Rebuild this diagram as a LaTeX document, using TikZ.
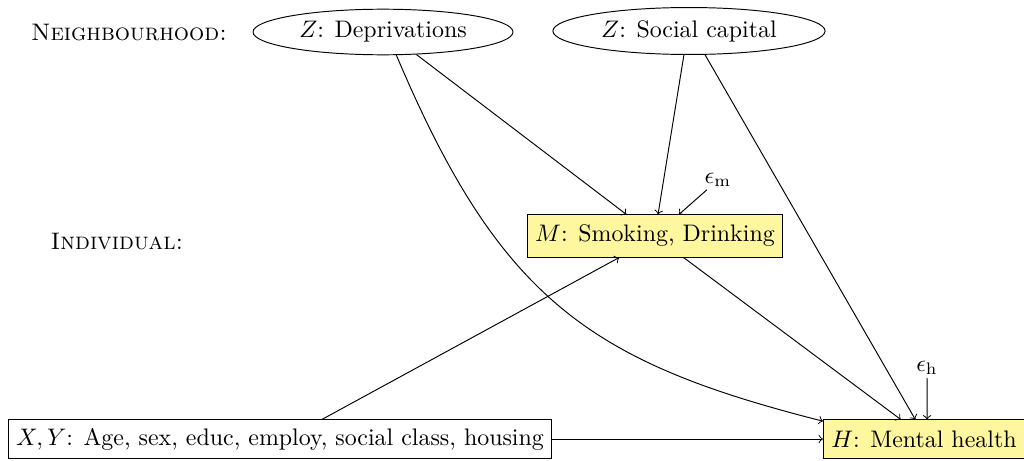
\documentclass[tikz,border=0pt]{standalone}
\usetikzlibrary{shapes.geometric}
\definecolor{boxy}{RGB}{255,246,160}
\begin{document}
\begin{tikzpicture}[x=0.0147cm,y=-0.0147cm,
  ell/.style={draw,ellipse,inner sep=0pt},
  plainbox/.style={draw,rectangle,minimum height=0.56cm},
  ybox/.style={draw,rectangle,fill=boxy,minimum height=0.56cm},
  lab/.style={inner sep=1pt},
  arr/.style={->}]
\useasboundingbox (0,0) rectangle (1024,461);
\node[lab] (nb) at (129,32) {\textsc{Neighbourhood:}};
\node[lab] (ind) at (117,241) {\textsc{Individual:}};
\node[ell,minimum width=3.82cm,minimum height=0.67cm] (dep) at (383,32) {$Z$: Deprivations};
\node[ell,minimum width=4.0cm,minimum height=0.69cm] (soc) at (689,31) {$Z$: Social capital};
\node[ybox,minimum height=0.62cm] (M) at (655,236) {$M$: Smoking, Drinking};
\node[plainbox] (X) at (280,439) {$X, Y$: Age, sex, educ, employ, social class, housing};
\node[ybox] (H) at (924,439) {$H$: Mental health};
\node[lab] (em) at (718,180) {$\epsilon_{\mathrm{m}}$};
\node[lab] (eh) at (927,368) {$\epsilon_{\mathrm{h}}$};
\draw[arr] (dep.-34) -- (M.143);
\draw[arr] (dep.-60) .. controls (500,300) and (590,362) .. (H.170);
\draw[arr] (soc.-102) -- (M.82);
\draw[arr] (soc.-56) -- (H.114);
\draw[arr] (em) -- (M.42);
\draw[arr] (M.-37) -- (H.140);
\draw[arr] (X.25) -- (M.211);
\draw[arr] (X.east) -- (H.west);
\draw[arr] (eh) -- (H.81);
\end{tikzpicture}
\end{document}
